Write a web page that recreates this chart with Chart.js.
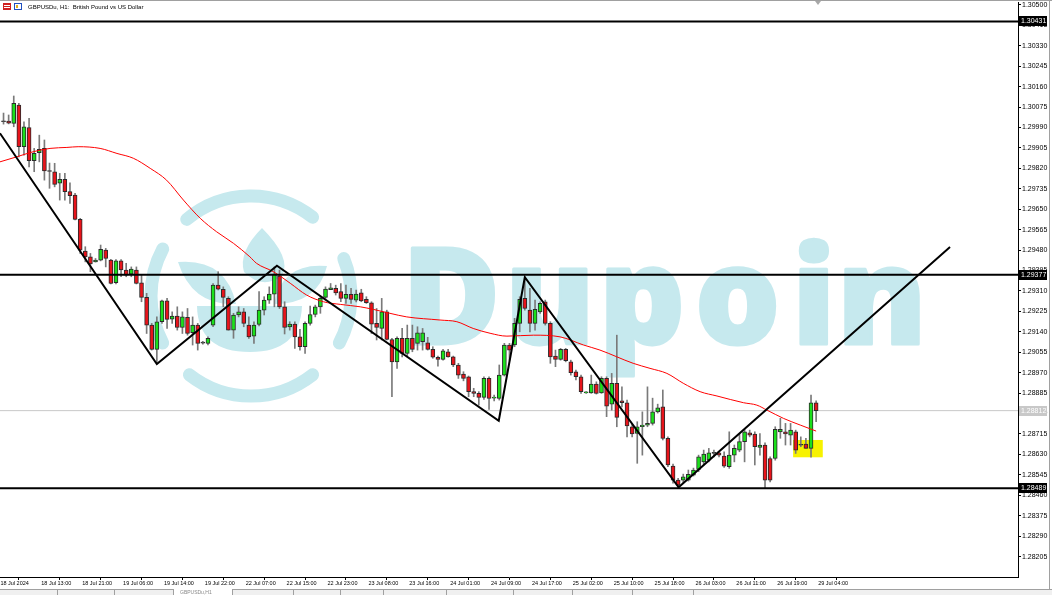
<!DOCTYPE html>
<html><head><meta charset="utf-8">
<script src="https://cdn.jsdelivr.net/npm/chart.js@4.4.1/dist/chart.umd.min.js"></script>
<style>html,body{margin:0;padding:0;background:#fff;overflow:hidden}canvas{display:block}</style>
</head><body>
<canvas id="c" width="1052" height="595"></canvas>
<script>
// ---- data (H1 bars, index 0 = 18 Jul 13:00) ----
const firstBar = -7;
const open = [
1.30014,1.30017,1.30007,1.30083,1.29910,1.29990,1.29852,1.29885,1.29903,1.29809,
1.29806,1.29758,1.29774,1.29723,1.29709,1.29608,1.29476,1.29452,1.29431,1.29438,
1.29480,1.29438,1.29344,1.29435,1.29397,1.29380,1.29397,1.29344,1.29283,1.29168,
1.29067,1.29182,1.29269,1.29193,1.29205,1.29158,1.29200,1.29136,1.29168,1.29094,
1.29092,1.29168,1.29334,1.29317,1.29279,1.29147,1.29210,1.29223,1.29168,1.29122,
1.29171,1.29230,1.29272,1.29297,1.29372,1.29244,1.29160,1.29172,1.29119,1.29078,
1.29175,1.29212,1.29244,1.29283,1.29315,1.29321,1.29307,1.29279,1.29296,1.29272,
1.29302,1.29275,1.29261,1.29175,1.29154,1.29223,1.29108,1.29015,1.29113,1.29050,
1.29113,1.29092,1.29099,1.29094,1.29067,1.29034,1.29025,1.29057,1.29036,1.29002,
1.28964,1.28953,1.28891,1.28884,1.28867,1.28946,1.28864,1.28863,1.28960,1.29085,
1.29085,1.29175,1.29279,1.29230,1.29175,1.29223,1.29265,1.29175,1.29039,1.29025,
1.29067,1.29015,1.28974,1.28953,1.28886,1.28886,1.28923,1.28886,1.28946,1.28839,
1.28926,1.28853,1.28845,1.28745,1.28717,1.28745,1.28752,1.28759,1.28807,1.28828,
1.28697,1.28581,1.28523,1.28523,1.28523,1.28544,1.28568,1.28599,1.28606,1.28634,
1.28637,1.28623,1.28579,1.28627,1.28648,1.28683,1.28720,1.28715,1.28659,1.28669,
1.28613,1.28613,1.28724,1.28724,1.28710,1.28724,1.28669,1.28673,1.28655,1.28845];
const high = [
1.30050,1.30042,1.30121,1.30090,1.30014,1.30028,1.29903,1.29958,1.29938,1.29842,
1.29841,1.29799,1.29799,1.29760,1.29716,1.29612,1.29494,1.29466,1.29445,1.29501,
1.29487,1.29442,1.29440,1.29440,1.29425,1.29410,1.29410,1.29376,1.29300,1.29175,
1.29202,1.29272,1.29279,1.29223,1.29244,1.29223,1.29237,1.29202,1.29175,1.29100,
1.29119,1.29341,1.29390,1.29327,1.29286,1.29217,1.29244,1.29237,1.29202,1.29182,
1.29307,1.29286,1.29327,1.29410,1.29397,1.29265,1.29182,1.29182,1.29150,1.29182,
1.29247,1.29251,1.29289,1.29327,1.29341,1.29334,1.29341,1.29334,1.29321,1.29314,
1.29317,1.29286,1.29265,1.29237,1.29279,1.29230,1.29113,1.29119,1.29154,1.29168,
1.29168,1.29161,1.29154,1.29117,1.29078,1.29039,1.29067,1.29067,1.29039,1.29009,
1.28974,1.28956,1.28905,1.28891,1.28953,1.28953,1.28877,1.29002,1.29092,1.29092,
1.29196,1.29286,1.29369,1.29321,1.29272,1.29265,1.29272,1.29182,1.29064,1.29071,
1.29071,1.29022,1.28981,1.28960,1.28891,1.28960,1.28932,1.28953,1.28953,1.28967,
1.29126,1.28911,1.28856,1.28759,1.28766,1.28807,1.28911,1.28864,1.28839,1.28898,
1.28703,1.28590,1.28530,1.28548,1.28565,1.28573,1.28627,1.28648,1.28655,1.28648,
1.28641,1.28641,1.28724,1.28669,1.28717,1.28734,1.28731,1.28724,1.28717,1.28678,
1.28620,1.28745,1.28780,1.28759,1.28759,1.28731,1.28703,1.28697,1.28877,1.28853];
const low = [
1.30004,1.30005,1.29993,1.29868,1.29875,1.29826,1.29806,1.29847,1.29771,1.29737,
1.29743,1.29688,1.29688,1.29674,1.29605,1.29466,1.29431,1.29390,1.29430,1.29435,
1.29410,1.29339,1.29339,1.29369,1.29369,1.29369,1.29339,1.29265,1.29133,1.29064,
1.29009,1.29175,1.29154,1.29175,1.29147,1.29133,1.29126,1.29085,1.29064,1.29089,
1.29085,1.29161,1.29314,1.29244,1.29147,1.29113,1.29202,1.29161,1.29113,1.29092,
1.29164,1.29210,1.29258,1.29244,1.29237,1.29131,1.29147,1.29071,1.29064,1.29050,
1.29168,1.29202,1.29217,1.29279,1.29317,1.29293,1.29265,1.29258,1.29258,1.29264,
1.29265,1.29258,1.29133,1.29106,1.29106,1.29106,1.28870,1.28988,1.29036,1.29036,
1.29057,1.29064,1.29064,1.29064,1.29030,1.28997,1.29022,1.29034,1.28995,1.28946,
1.28936,1.28870,1.28870,1.28835,1.28859,1.28817,1.28852,1.28856,1.28956,1.29022,
1.29078,1.29140,1.29230,1.29140,1.29147,1.29217,1.29168,1.29009,1.28995,1.29022,
1.29015,1.28960,1.28940,1.28884,1.28884,1.28884,1.28881,1.28884,1.28787,1.28814,
1.28745,1.28828,1.28703,1.28703,1.28593,1.28627,1.28745,1.28752,1.28802,1.28690,
1.28579,1.28510,1.28489,1.28511,1.28519,1.28540,1.28558,1.28586,1.28599,1.28620,
1.28620,1.28576,1.28572,1.28599,1.28641,1.28599,1.28703,1.28586,1.28627,1.28489,
1.28516,1.28606,1.28697,1.28669,1.28669,1.28634,1.28662,1.28655,1.28618,1.28766];
const close = [
1.30016,1.30008,1.30090,1.29910,1.29993,1.29852,1.29882,1.29899,1.29809,1.29807,
1.29753,1.29774,1.29723,1.29706,1.29608,1.29480,1.29452,1.29422,1.29438,1.29483,
1.29445,1.29341,1.29435,1.29397,1.29376,1.29401,1.29341,1.29283,1.29168,1.29067,
1.29182,1.29269,1.29192,1.29205,1.29158,1.29202,1.29133,1.29168,1.29092,1.29093,
1.29113,1.29334,1.29317,1.29283,1.29147,1.29210,1.29223,1.29175,1.29119,1.29168,
1.29230,1.29272,1.29297,1.29380,1.29244,1.29158,1.29172,1.29119,1.29078,1.29175,
1.29212,1.29244,1.29279,1.29318,1.29323,1.29302,1.29279,1.29296,1.29275,1.29297,
1.29269,1.29261,1.29172,1.29158,1.29223,1.29108,1.29015,1.29113,1.29050,1.29113,
1.29067,1.29136,1.29136,1.29067,1.29034,1.29025,1.29061,1.29036,1.29002,1.28960,
1.28946,1.28891,1.28884,1.28867,1.28946,1.28863,1.28868,1.28960,1.29085,1.29064,
1.29175,1.29275,1.29237,1.29175,1.29233,1.29258,1.29175,1.29036,1.29025,1.29067,
1.29020,1.28970,1.28953,1.28891,1.28888,1.28923,1.28884,1.28946,1.28831,1.28926,
1.28784,1.28845,1.28748,1.28715,1.28745,1.28752,1.28759,1.28807,1.28824,1.28697,
1.28586,1.28523,1.28502,1.28537,1.28547,1.28565,1.28620,1.28631,1.28637,1.28636,
1.28627,1.28581,1.28627,1.28655,1.28683,1.28724,1.28710,1.28662,1.28669,1.28523,
1.28523,1.28734,1.28734,1.28715,1.28731,1.28648,1.28668,1.28655,1.28845,1.28812];

// moving average (red) read at these bar positions
const maIndex = [-7.7,-4.4,-1.2,2.1,5.4,7.6,11.9,15.2,18.4,21.7,24.9,28.2,31.5,34.7,38.0,41.2,42.5,45.8,49.1,52.3,55.6,58.9,62.8,65.4,68.6,71.9,78.4,81.7,84.9,88.2,91.5,96.7,101.9,106.5,109.7,116.2,119.5,122.8,126.0,129.3,132.6,137.8,140.4,142.4,145.6,148.9,152.0];
const maValue = [1.29847,1.29868,1.29889,1.29903,1.29907,1.29910,1.29903,1.29882,1.29862,1.29820,1.29771,1.29688,1.29612,1.29556,1.29508,1.29452,1.29425,1.29390,1.29342,1.29293,1.29265,1.29254,1.29244,1.29233,1.29217,1.29202,1.29189,1.29182,1.29154,1.29134,1.29122,1.29126,1.29119,1.29085,1.29064,1.29009,1.28988,1.28967,1.28926,1.28891,1.28873,1.28845,1.28835,1.28814,1.28780,1.28752,1.28727];

// hand-drawn zigzag trend lines
const trendIndex = [-7.7,23.0,46.5,89.9,95.0,125.1,178.2];
const trendValue = [1.29966,1.29006,1.29415,1.28770,1.29367,1.28493,1.29493];

// horizontal levels & current price
const levels = [1.30431,1.29377,1.28489];
const currentPrice = 1.28812;
// highlighted zone (yellow)
const zoneIndex = [147.5,153.3];
const zonePrice = [1.28618,1.28690];

// axes
const xMin = -7.69, xMax = 191.5;
const yMin = 1.28120, yMax = 1.30512;
const yTicks = [1.28205,1.28290,1.28375,1.28460,1.28545,1.28630,1.28715,1.28800,1.28885,1.28970,1.29055,1.29140,1.29225,1.29310,1.29395,1.29480,1.29565,1.29650,1.29735,1.29820,1.29905,1.29990,1.30075,1.30160,1.30245,1.30330,1.30415,1.30500];
const xTickIndex = [-8,0,8,16,24,32,40,48,56,64,72,80,88,96,104,112,120,128,136,144,152];
const xTickLabels = ['18 Jul 2024','18 Jul 13:00','18 Jul 21:00','19 Jul 06:00','19 Jul 14:00','19 Jul 22:00','22 Jul 07:00','22 Jul 15:00','22 Jul 23:00','23 Jul 08:00','23 Jul 16:00','24 Jul 01:00','24 Jul 09:00','24 Jul 17:00','25 Jul 02:00','25 Jul 10:00','25 Jul 18:00','26 Jul 03:00','26 Jul 11:00','26 Jul 19:00','29 Jul 04:00'];

// ---- build ----
const bars = open.map((_, i) => firstBar + i);
const UP = '#1be01b', DN = '#e8141b', EDGE = '#2a2a2a', WICK = '#7a7a7a';
const FONT = '"Liberation Sans", Arial, sans-serif';

const watermark = {
  id: 'watermark',
  beforeDatasetsDraw(chart) {
    const c = chart.ctx, a = chart.chartArea;
    c.save();
    c.beginPath(); c.rect(a.left, a.top, a.right - a.left, a.bottom - a.top); c.clip();
    const col = '#c6e9ee';
    c.strokeStyle = col; c.fillStyle = col;
    // ring of the logo
    c.lineWidth = 13; c.lineCap = 'round';
    const cx = 251, cy = 296, r = 100;
    [[-130,-52],[-22,28],[52,128],[152,208]].forEach(([s,e]) => {
      c.beginPath(); c.arc(cx, cy, r, s*Math.PI/180, e*Math.PI/180); c.stroke();
    });
    // leaves
    c.beginPath();
    c.moveTo(262, 228); c.quadraticCurveTo(292, 258, 282, 276); c.quadraticCurveTo(262, 290, 244, 272); c.quadraticCurveTo(238, 252, 262, 228); c.fill();
    c.beginPath();
    c.moveTo(178, 262); c.quadraticCurveTo(226, 258, 236, 304); c.quadraticCurveTo(192, 306, 178, 262); c.fill();
    c.beginPath();
    c.moveTo(327, 266); c.quadraticCurveTo(282, 262, 274, 304); c.quadraticCurveTo(318, 304, 327, 266); c.fill();
    c.beginPath();
    c.moveTo(197, 306); c.lineTo(302, 306); c.quadraticCurveTo(300, 352, 250, 352); c.quadraticCurveTo(198, 352, 197, 306); c.fill();
    // brand word, letter by letter (ink left edges)
    c.font = '800 134px "Open Sans", sans-serif';
    c.textBaseline = 'alphabetic';
    c.lineWidth = 3; c.lineJoin = 'round';
    const letters = [['D',412],['u',513],['p',607],['o',700],['i',800],['n',845]];
    letters.forEach(([ch, left]) => {
      const m = c.measureText(ch);
      const x = left + m.actualBoundingBoxLeft;
      c.fillText(ch, x, 344); c.strokeText(ch, x, 344);
    });
    c.restore();
  }
};

const zone = {
  id: 'zone',
  beforeDatasetsDraw(chart) {
    const {x, y} = chart.scales, c = chart.ctx;
    const x0 = x.getPixelForValue(zoneIndex[0]), x1 = x.getPixelForValue(zoneIndex[1]);
    const y0 = y.getPixelForValue(zonePrice[1]), y1 = y.getPixelForValue(zonePrice[0]);
    c.save(); c.fillStyle = '#f7f200'; c.fillRect(x0, y0, x1 - x0, y1 - y0); c.restore();
  }
};

const chrome = {
  id: 'chrome',
  afterDraw(chart) {
    const c = chart.ctx, a = chart.chartArea, ys = chart.scales.y;
    c.save();
    c.font = '7px ' + FONT; c.textBaseline = 'middle'; c.textAlign = 'left';
    const tag = (v, bg) => {
      const py = Math.round(ys.getPixelForValue(v));
      c.fillStyle = bg; c.fillRect(a.right + 1, py - 5, 28, 10);
      c.fillStyle = '#fff'; c.fillText(v.toFixed(5), a.right + 3, py + 0.5);
    };
    levels.forEach(v => tag(v, '#000'));
    tag(currentPrice, '#c8c8c8');
    // title
    c.fillStyle = '#d02020'; c.fillRect(3, 3, 8, 7);
    c.fillStyle = '#fff'; c.fillRect(4, 5, 6, 1); c.fillRect(4, 7, 6, 1);
    c.strokeStyle = '#2050c0'; c.lineWidth = 1; c.strokeRect(14.5, 3.5, 7, 6);
    c.fillStyle = '#e0b020'; c.fillRect(16, 5, 2, 3);
    c.fillStyle = '#000'; c.font = '6px ' + FONT; c.textBaseline = 'middle';
    c.fillText('GBPUSDu, H1:  British Pound vs US Dollar', 28, 7);
    // small marker at top
    c.fillStyle = '#a8a8a8'; c.beginPath(); c.moveTo(815, 1); c.lineTo(821, 1); c.lineTo(818, 5); c.closePath(); c.fill();
    // frame lines
    c.fillStyle = '#a0a0a0'; c.fillRect(0, 0, 1052, 1); c.fillRect(1049, 0, 1, 589);
    // bottom tab strip
    c.fillStyle = '#f0f0f0'; c.fillRect(0, 589, 1052, 6);
    c.fillStyle = '#a0a0a0'; c.fillRect(0, 589, 1052, 1);
    [57,114,173,232,293,340,383,446,513,572,632,693].forEach(t => c.fillRect(t, 590, 1, 5));
    c.fillStyle = '#fff'; c.fillRect(174, 589, 58, 6);
    c.fillStyle = '#888'; c.font = '5px ' + FONT; c.fillText('GBPUSDu,H1', 180, 592.5);
    c.restore();
  }
};

const lineDs = (data, color, width, extra) => Object.assign({
  type: 'line', data, borderColor: color, borderWidth: width, pointRadius: 0,
  fill: false, tension: 0
}, extra || {});

const datasets = [];
levels.forEach(v => datasets.push(lineDs([{x: xMin, y: v}, {x: xMax, y: v}], '#000', 2, {order: 0})));
datasets.push(lineDs([{x: xMin, y: currentPrice}, {x: xMax, y: currentPrice}], '#c8c8c8', 1, {order: 4}));
datasets.push(lineDs(trendIndex.map((x, i) => ({x, y: trendValue[i]})), '#000', 2, {order: 0}));
datasets.push(lineDs(maIndex.map((x, i) => ({x, y: maValue[i]})), '#ff0000', 1, {order: 1, cubicInterpolationMode: 'monotone'}));
datasets.push({
  type: 'bar', order: 3, grouped: false, barThickness: 1,
  data: bars.map((x, i) => ({x, y: [low[i], high[i]]})),
  backgroundColor: WICK, borderWidth: 0
});
datasets.push({
  type: 'bar', order: 2, grouped: false, barThickness: 4, minBarLength: 1,
  data: bars.map((x, i) => ({x, y: [open[i], close[i]]})),
  backgroundColor: ctx => {
    const i = ctx.dataIndex;
    if (Math.abs(close[i] - open[i]) < 0.00002) return '#555';
    return close[i] > open[i] ? UP : DN;
  },
  borderColor: EDGE, borderWidth: 1, borderSkipped: false
});

new Chart(document.getElementById('c'), {
  type: 'bar',
  data: {datasets},
  options: {
    responsive: false, animation: false, devicePixelRatio: 1,
    layout: {padding: {top: 2, left: 0, right: 0, bottom: 0}},
    plugins: {legend: {display: false}, tooltip: {enabled: false}},
    scales: {
      x: {
        type: 'linear', min: xMin, max: xMax, offset: false,
        afterBuildTicks: s => { s.ticks = xTickIndex.map(v => ({value: v})); },
        afterFit: s => { s.height = 18; s.paddingLeft = 0; s.paddingRight = 0; },
        grid: {drawOnChartArea: false, drawTicks: true, tickLength: 3, color: '#000'},
        border: {display: true, color: '#000', width: 1},
        ticks: {autoSkip: false, maxRotation: 0, minRotation: 0, align: 'start', labelOffset: 2, padding: 0,
          font: {family: FONT, size: 5.5}, color: '#000',
          callback: (v, i) => xTickLabels[i]}
      },
      y: {
        position: 'right', min: yMin, max: yMax,
        afterBuildTicks: s => { s.ticks = yTicks.map(v => ({value: v})); },
        afterFit: s => { s.width = 34; s.paddingTop = 0; s.paddingBottom = 0; },
        grid: {drawOnChartArea: false, drawTicks: true, tickLength: 3, color: '#000'},
        border: {display: true, color: '#000', width: 1},
        ticks: {padding: 1, font: {family: FONT, size: 7}, color: '#000', callback: v => v.toFixed(5)}
      }
    }
  },
  plugins: [watermark, zone, chrome]
});
</script>
</body></html>
